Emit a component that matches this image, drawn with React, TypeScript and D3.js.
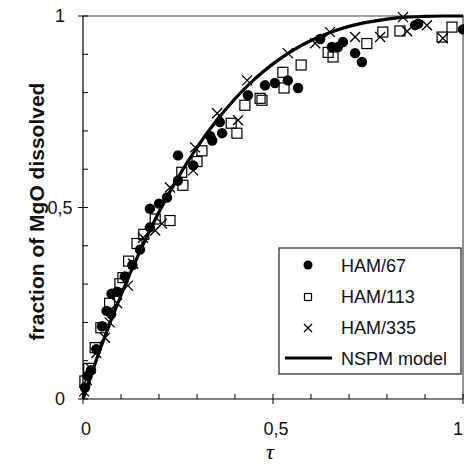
import React from "react";
import * as d3 from "d3";

const W = 464;
const H = 465;

// tau vs fraction dissolved
const ham67: [number, number][] = [
  [0.005, 0.03], [0.012, 0.06], [0.021, 0.075], [0.035, 0.13], [0.05, 0.19],
  [0.062, 0.23], [0.074, 0.222], [0.075, 0.275], [0.09, 0.28], [0.11, 0.32],
  [0.13, 0.35], [0.15, 0.39], [0.176, 0.448], [0.176, 0.497], [0.2, 0.51],
  [0.221, 0.526], [0.25, 0.636], [0.25, 0.57], [0.29, 0.61], [0.34, 0.675],
  [0.335, 0.686], [0.366, 0.694], [0.36, 0.723], [0.434, 0.793], [0.479, 0.819],
  [0.505, 0.825], [0.539, 0.832], [0.566, 0.812], [0.624, 0.94], [0.655, 0.919],
  [0.671, 0.919], [0.684, 0.932], [0.716, 0.903], [0.734, 0.88], [0.874, 0.976],
  [0.882, 0.98], [1.0, 0.965],
];

const ham113: [number, number][] = [
  [0.005, 0.047], [0.015, 0.08], [0.032, 0.134], [0.047, 0.186], [0.07, 0.25],
  [0.097, 0.301], [0.105, 0.317], [0.12, 0.36], [0.142, 0.406], [0.16, 0.43],
  [0.19, 0.47], [0.229, 0.466], [0.263, 0.558], [0.26, 0.592], [0.3, 0.62],
  [0.313, 0.648], [0.39, 0.72], [0.405, 0.694], [0.426, 0.767], [0.466, 0.785],
  [0.471, 0.78], [0.526, 0.853], [0.529, 0.812], [0.574, 0.872], [0.645, 0.905],
  [0.658, 0.893], [0.747, 0.928], [0.789, 0.958], [0.834, 0.961], [0.945, 0.945],
  [0.971, 0.971],
];

const ham335: [number, number][] = [
  [0.003, 0.02], [0.01, 0.05], [0.02, 0.08], [0.035, 0.12], [0.058, 0.16],
  [0.07, 0.2], [0.09, 0.25], [0.118, 0.296], [0.132, 0.353], [0.158, 0.421],
  [0.19, 0.44], [0.208, 0.458], [0.229, 0.552], [0.29, 0.597], [0.295, 0.657],
  [0.353, 0.746], [0.408, 0.728], [0.432, 0.832], [0.539, 0.903], [0.611, 0.929],
  [0.65, 0.958], [0.716, 0.945], [0.782, 0.945], [0.842, 0.997], [0.853, 0.96],
  [0.905, 0.976], [0.947, 0.942],
];

// NSPM model curve
const modelTau = [0, 0.05, 0.1, 0.15, 0.2, 0.25, 0.3, 0.35, 0.4, 0.45, 0.5, 0.55, 0.6, 0.65, 0.7, 0.75, 0.8, 0.85, 0.9, 0.95, 1.0];
const modelFrac = [0, 0.143, 0.271, 0.386, 0.488, 0.578, 0.657, 0.725, 0.784, 0.834, 0.875, 0.909, 0.936, 0.957, 0.973, 0.984, 0.992, 0.997, 0.999, 1.0, 1.0];

const tickVals = [0, 0.1, 0.2, 0.3, 0.4, 0.5, 0.6, 0.7, 0.8, 0.9, 1];
const tickLabels = ["0", "0,5", "1"];
const labelVals = [0, 0.5, 1];

const legendItems = ["HAM/67", "HAM/113", "HAM/335", "NSPM model"];

const sans = "'Liberation Sans', Arial, sans-serif";

const Cross = ({ x, y, s }: { x: number; y: number; s: number }) => (
  <path d={`M${x - s},${y - s}L${x + s},${y + s}M${x - s},${y + s}L${x + s},${y - s}`} stroke="#000" strokeWidth={1.3} />
);

export default function App() {
  const x = d3.scaleLinear().domain([0, 1]).range([83, 463]);
  const y = d3.scaleLinear().domain([0, 1]).range([399, 16]);

  const line = d3
    .line<number>()
    .x((d) => x(d))
    .y((_, i) => y(modelFrac[i]))
    .curve(d3.curveMonotoneX);

  const lx = 279, ly = 248;

  return (
    <svg width={W} height={H} style={{ position: "absolute", left: 0, top: 0, background: "#fff" }}>
      {/* frame */}
      <line x1={x(0)} x2={x(0)} y1={y(0)} y2={y(1)} stroke="#000" strokeWidth={1.2} />
      <line x1={x(0)} x2={x(1)} y1={y(0)} y2={y(0)} stroke="#000" strokeWidth={1.2} />
      <line x1={x(0)} x2={W} y1={y(1)} y2={y(1)} stroke="#444" strokeWidth={1.2} />
      <line x1={x(1)} x2={x(1)} y1={y(0)} y2={y(1)} stroke="#444" strokeWidth={1.2} />

      {/* ticks */}
      {tickVals.map((t) => {
        const major = t === 0 || t === 0.5 || t === 1;
        return (
          <g key={"t" + t}>
            <line x1={x(0) - (major ? 5 : 0)} x2={x(0) + 5} y1={y(t)} y2={y(t)} stroke="#000" strokeWidth={1} />
            <line x1={x(t)} x2={x(t)} y1={y(0) - 5} y2={y(0) + (major ? 5 : 0)} stroke="#000" strokeWidth={1} />
          </g>
        );
      })}

      {labelVals.map((v, i) => (
        <g key={"l" + v} fontFamily={sans} fontSize={18} fill="#111">
          <text x={60} y={y(v) + 6} textAnchor="middle">{tickLabels[i]}</text>
          <text x={Math.min(x(v) + 3, 458)} y={y(0) + 36} textAnchor="middle">{tickLabels[i]}</text>
        </g>
      ))}

      <text
        transform={`translate(44,${(y(0) + y(1)) / 2 + 4}) rotate(-90)`}
        textAnchor="middle"
        fontFamily={sans}
        fontWeight="bold"
        fontSize={21}
        fill="#111"
      >
        fraction of MgO dissolved
      </text>
      <text x={x(0.5) - 3} y={459} textAnchor="middle" fontFamily="'Liberation Serif', serif" fontStyle="italic" fontSize={22}>
        τ
      </text>

      {/* data */}
      {ham335.map((d, i) => (
        <Cross key={"c" + i} x={x(d[0])} y={y(d[1])} s={5} />
      ))}
      {ham113.map((d, i) => (
        <rect key={"s" + i} x={x(d[0]) - 5} y={y(d[1]) - 5} width={10} height={10} fill="none" stroke="#000" strokeWidth={1.2} />
      ))}
      {ham67.map((d, i) => (
        <circle key={"o" + i} cx={x(d[0])} cy={y(d[1])} r={5.2} fill="#000" />
      ))}
      <path d={line(modelTau) || ""} fill="none" stroke="#000" strokeWidth={3.2} />

      {/* legend */}
      <rect x={lx} y={ly} width={182} height={126} fill="#fff" stroke="#333" strokeWidth={1.3} />
      <circle cx={308} cy={265} r={4.5} fill="#000" />
      <rect x={304.5} y={293.5} width={7} height={7} fill="none" stroke="#000" strokeWidth={1.2} />
      <Cross x={308} y={328} s={4} />
      <line x1={285} x2={332} y1={358} y2={358} stroke="#000" strokeWidth={3} />
      {legendItems.map((t, i) => (
        <text key={t} x={341} y={272 + i * 31} fontFamily={sans} fontSize={18} fill="#111">
          {t}
        </text>
      ))}
    </svg>
  );
}
